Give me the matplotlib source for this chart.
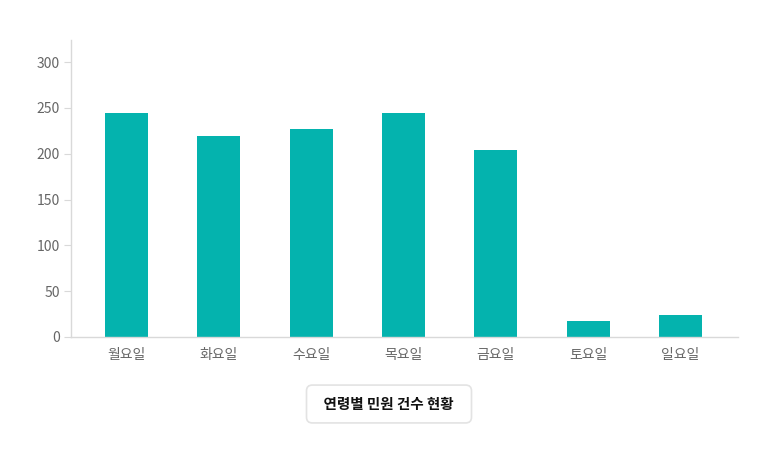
import matplotlib
matplotlib.use("Agg")
import matplotlib.pyplot as plt

plt.rcParams['font.family'] = ['Noto Sans CJK KR', 'DejaVu Sans']

categories = ['월요일', '화요일', '수요일', '목요일', '금요일', '토요일', '일요일']
values = [244, 219, 227, 244, 204, 17, 24]
yticks = [0, 50, 100, 150, 200, 250, 300]
title = '연령별 민원 건수 현황'

fig = plt.figure(figsize=(7.78, 4.62), dpi=100)
ax = fig.add_axes([71/778, 1-337/462, (738-71)/778, (337-40)/462])

x = list(range(len(categories)))
ax.bar(x, values, width=0.466, color='#04b3ae', zorder=2)

ax.set_xlim(-0.601, 6.623)
ax.set_ylim(0, 324)
ax.set_yticks(yticks)
ax.set_xticks(x)
ax.set_xticklabels(categories)

for s in ['top', 'right']:
    ax.spines[s].set_visible(False)
for s in ['left', 'bottom']:
    ax.spines[s].set_color('#d9d9d9')
    ax.spines[s].set_linewidth(1)

ax.tick_params(axis='y', length=5, color='#d9d9d9', labelsize=10, labelcolor='#666666', pad=3)
ax.tick_params(axis='x', length=0, labelsize=10, labelcolor='#666666', pad=8)

fig.text(0.5, 1-404/462, '  ' + title + '  ', ha='center', va='center', fontsize=10.5,
         color='#111111', fontweight='bold',
         bbox=dict(boxstyle='round,pad=0.75,rounding_size=0.4', facecolor='white',
                   edgecolor='#e3e3e3', linewidth=1.2))

fig.savefig('out.png', dpi=100)
